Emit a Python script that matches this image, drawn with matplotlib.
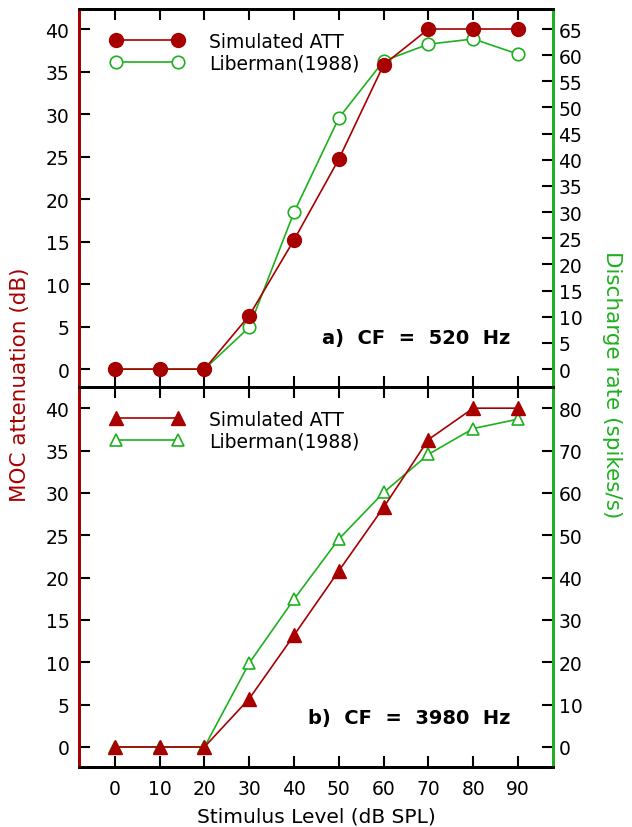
import numpy as np
import matplotlib.pyplot as plt

# stimulus levels (dB SPL)
levels = [0, 10, 20, 30, 40, 50, 60, 70, 80, 90]

# a) CF = 520 Hz
att_a = [0, 0, 0, 6.3, 15.2, 24.7, 35.8, 40, 40, 40]        # dB
rate_a = [0, 0, 0, 8.0, 30.0, 48.0, 58.9, 62.1, 63.1, 60.2]  # spikes/s

# b) CF = 3980 Hz
att_b = [0, 0, 0, 5.7, 13.2, 20.8, 28.3, 36.3, 40, 40]
rate_b = [0, 0, 0, 19.8, 34.9, 49.1, 60.1, 69.1, 75.2, 77.4]

red = '#a80000'
green = '#1fb01f'
fs = 13.5

fig = plt.figure(figsize=(6.32, 8.28), dpi=100)
axa = fig.add_axes([0.125, 0.5314, 0.75, 0.4565])
axb = fig.add_axes([0.125, 0.0725, 0.75, 0.4589])


def panel(ax, att, rate, marker, ylim_l, rmax, rstep, title, show_x):
    ax2 = ax.twinx()
    ax2.plot(levels, rate, color=green, lw=1.2, marker=marker, ms=9,
             mfc='white', mec=green, mew=1.2, label='Liberman(1988)')
    ax.plot(levels, att, color=red, lw=1.2, marker=marker, ms=10,
            mfc=red, mec=red, label='Simulated ATT', zorder=5)
    ax.set_zorder(ax2.get_zorder() + 1)
    ax.patch.set_visible(False)

    ax.set_xlim(-8, 97.8)
    ax.set_ylim(*ylim_l)
    # right axis scaled so that rmax lines up with 40 dB
    k = rmax / 40.0
    ax2.set_ylim(ylim_l[0] * k, ylim_l[1] * k)

    ax.set_xticks(levels)
    ax.set_yticks(np.arange(0, 41, 5))
    ax2.set_yticks(np.arange(0, rmax + 1, rstep))
    ax.tick_params(axis='both', direction='in', length=8, width=1.5,
                   labelsize=fs, top=True)
    ax.tick_params(axis='y', pad=7)
    ax.tick_params(axis='x', pad=9)
    ax2.tick_params(axis='y', direction='in', length=8, width=1.5,
                    labelsize=fs, pad=4)
    if not show_x:
        ax.tick_params(axis='x', labelbottom=False)

    for a in (ax, ax2):
        for s in a.spines.values():
            s.set_linewidth(2)
        a.spines['left'].set_color(red)
        a.spines['right'].set_color(green)

    h1, l1 = ax.get_legend_handles_labels()
    h2, l2 = ax2.get_legend_handles_labels()
    ax.legend(h1 + h2, l1 + l2, loc='upper left', frameon=False,
              numpoints=2, handlelength=3.9, fontsize=fs,
              bbox_to_anchor=(0.03, 0.985), handletextpad=1.4,
              labelspacing=0.15)
    ax.text(0.91, 0.13, title, transform=ax.transAxes, ha='right',
            va='center', fontsize=fs + 0.5, fontweight='bold')


panel(axa, att_a, rate_a, 'o', (-2.1, 42.35), 65, 5,
      'a)  CF  =  520  Hz', False)
panel(axb, att_b, rate_b, '^', (-2.36, 42.5), 80, 10,
      'b)  CF  =  3980  Hz', True)

axb.set_xlabel('Stimulus Level (dB SPL)', fontsize=fs + 1, labelpad=6)
fig.text(0.032, 0.535, 'MOC attenuation (dB)', color=red, rotation=90,
         ha='center', va='center', fontsize=fs + 2)
fig.text(0.968, 0.535, 'Discharge rate (spikes/s)', color=green,
         rotation=270, ha='center', va='center', fontsize=fs + 2)

fig.savefig('out.png', dpi=100)
